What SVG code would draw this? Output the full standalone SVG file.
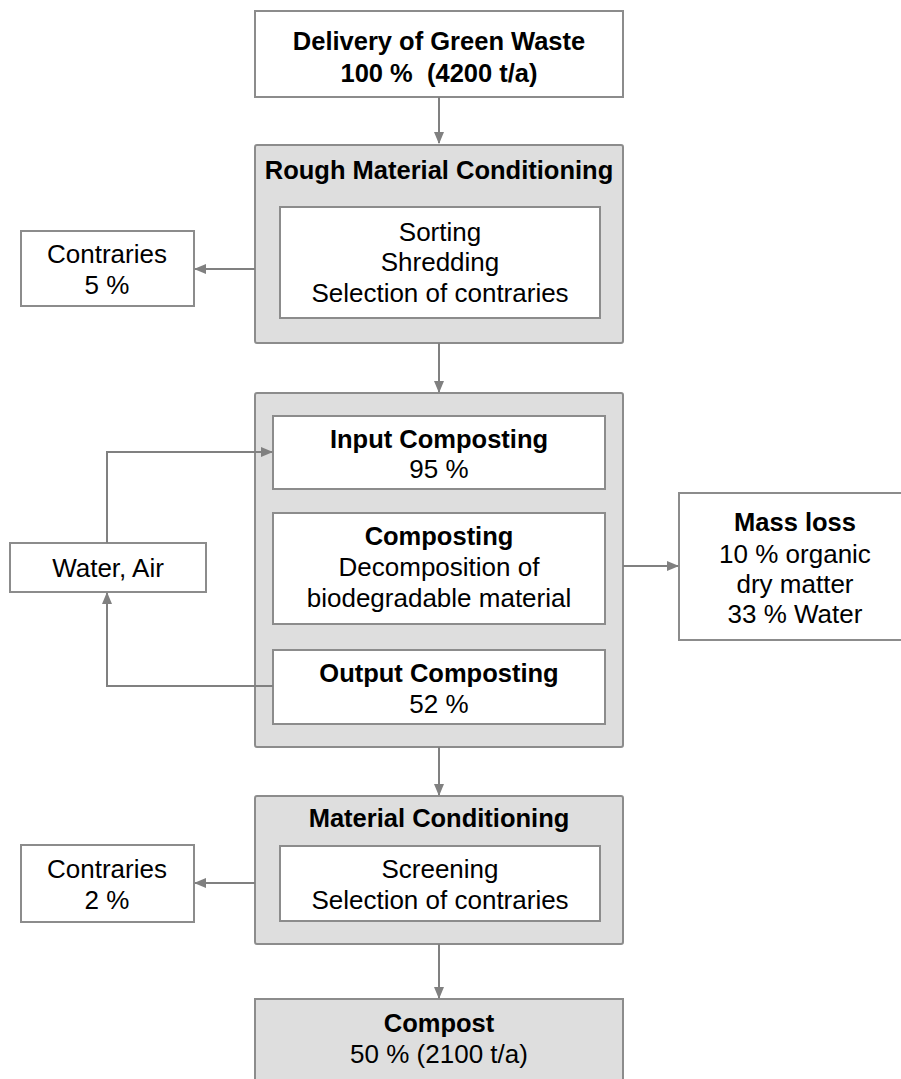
<svg xmlns="http://www.w3.org/2000/svg" width="901" height="1079" viewBox="0 0 901 1079">
<defs>
<marker id="ah" markerWidth="12" markerHeight="10" refX="11" refY="5" orient="auto" markerUnits="userSpaceOnUse">
<path d="M0,0 L12,5 L0,10 Z" fill="#808080"/>
</marker>
<style>
.grp{fill:#dedede;stroke:#8c8c8c;stroke-width:2}
.box{fill:#ffffff;stroke:#8c8c8c;stroke-width:2}
text{font-family:"Liberation Sans",Arial,sans-serif;font-size:26px;fill:#000;text-anchor:middle}
.b{font-weight:bold;font-size:25.5px}
.con{fill:none;stroke:#808080;stroke-width:2}
</style>
</defs>
<rect width="901" height="1079" fill="#fff"/>
<g id="delivery">
<rect class="box" x="255" y="11" width="368" height="86"/>
<text class="b" x="439" y="50">Delivery of Green Waste</text>
<text class="b" x="439" y="82" xml:space="preserve">100 %  (4200 t/a)</text>
</g>
<g id="rough">
<rect class="grp" x="255" y="145" width="368" height="198" rx="2"/>
<text class="b" x="439" y="179">Rough Material Conditioning</text>
<rect class="box" x="280" y="207" width="320" height="111"/>
<text x="440" y="241">Sorting</text>
<text x="440" y="271">Shredding</text>
<text x="440" y="302">Selection of contraries</text>
</g>
<g id="contraries1">
<rect class="box" x="21" y="231" width="173" height="75"/>
<text x="107" y="263">Contraries</text>
<text x="107" y="294">5 %</text>
</g>
<g id="composting-group">
<rect class="grp" x="255" y="393" width="368" height="354" rx="2"/>
</g>
<g id="input">
<rect class="box" x="273" y="416" width="332" height="73"/>
<text class="b" x="439" y="448">Input Composting</text>
<text x="439" y="478">95 %</text>
</g>
<g id="composting">
<rect class="box" x="273" y="513" width="332" height="111"/>
<text class="b" x="439" y="545">Composting</text>
<text x="439" y="576">Decomposition of</text>
<text x="439" y="607">biodegradable material</text>
</g>
<g id="output">
<rect class="box" x="273" y="650" width="332" height="74"/>
<text class="b" x="439" y="682">Output Composting</text>
<text x="439" y="713">52 %</text>
</g>
<g id="water-air">
<rect class="box" x="10" y="543" width="196" height="49"/>
<text x="108" y="577">Water, Air</text>
</g>
<g id="mass-loss">
<rect class="box" x="679" y="493" width="232" height="147"/>
<text class="b" x="795" y="531">Mass loss</text>
<text x="795" y="563">10 % organic</text>
<text x="795" y="593">dry matter</text>
<text x="795" y="623">33 % Water</text>
</g>
<g id="material">
<rect class="grp" x="255" y="796" width="368" height="148" rx="2"/>
<text class="b" x="439" y="827">Material Conditioning</text>
<rect class="box" x="280" y="846" width="320" height="75"/>
<text x="440" y="878">Screening</text>
<text x="440" y="909">Selection of contraries</text>
</g>
<g id="contraries2">
<rect class="box" x="21" y="845" width="173" height="77"/>
<text x="107" y="878">Contraries</text>
<text x="107" y="909">2 %</text>
</g>
<g id="compost">
<rect class="grp" x="255" y="999" width="368" height="100"/>
<text class="b" x="439" y="1032">Compost</text>
<text x="439" y="1063">50 % (2100 t/a)</text>
</g>
<g id="connectors">
<path class="con" d="M439,97 V143" marker-end="url(#ah)"/>
<path class="con" d="M255,269 H195" marker-end="url(#ah)"/>
<path class="con" d="M439,343 V392" marker-end="url(#ah)"/>
<path class="con" d="M107,543 V452 H272" marker-end="url(#ah)"/>
<path class="con" d="M273,686 H107 V593" marker-end="url(#ah)"/>
<path class="con" d="M623,566 H678" marker-end="url(#ah)"/>
<path class="con" d="M439,747 V795" marker-end="url(#ah)"/>
<path class="con" d="M255,883 H195" marker-end="url(#ah)"/>
<path class="con" d="M439,944 V998" marker-end="url(#ah)"/>
</g>
</svg>
